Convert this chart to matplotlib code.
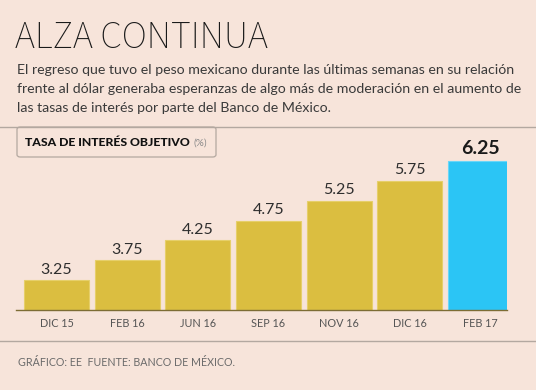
import matplotlib
matplotlib.use("Agg")
import matplotlib.pyplot as plt
from matplotlib.patches import FancyBboxPatch
from matplotlib.lines import Line2D

categories = ["DIC 15", "FEB 16", "JUN 16", "SEP 16", "NOV 16", "DIC 16", "FEB 17"]
values = [3.25, 3.75, 4.25, 4.75, 5.25, 5.75, 6.25]
value_labels = ["3.25", "3.75", "4.25", "4.75", "5.25", "5.75", "6.25"]

BG = "#F7E4DA"
GOLD = "#DBBE40"
BLUE = "#2BC5F5"
W, H = 536, 390

plt.rcParams['font.family'] = ['Lato', 'DejaVu Sans']
fig = plt.figure(figsize=(W / 100, H / 100), dpi=100, facecolor=BG)

def fx(px):
    return px / W

def fy(py):
    return 1 - py / H

# Title and subtitle
fig.text(fx(15), fy(47.5), "ALZA CONTINUA", fontsize=27.5,
         family=['Source Sans 3', 'Lato', 'DejaVu Sans'],
         color="#1a1a1a", ha='left', va='baseline')
sub = ["El regreso que tuvo el peso mexicano durante las últimas semanas en su relación",
       "frente al dólar generaba esperanzas de algo más de moderación en el aumento de",
       "las tasas de interés por parte del Banco de México."]
for i, line in enumerate(sub):
    fig.text(fx(17), fy(74.5 + i * 18.5), line, fontsize=10.2, color="#3a3a3a",
             ha='left', va='baseline')

# Separator lines
fig.add_artist(Line2D([0, 1], [fy(127), fy(127)], color="#B3A8A0", lw=1.0))
fig.add_artist(Line2D([0, 1], [fy(340.5), fy(340.5)], color="#B3A8A0", lw=1.0))

# Legend box
box = FancyBboxPatch((fx(17), fy(157)), fx(216) - fx(17), fy(127) - fy(157),
                     boxstyle="round,pad=0,rounding_size=0.006",
                     transform=fig.transFigure, facecolor=BG,
                     edgecolor="#B3A8A0", lw=0.9)
fig.add_artist(box)
fig.text(fx(25), fy(146), "TASA DE INTERÉS OBJETIVO", fontsize=8.85,
         fontweight='black', color="#111111", ha='left', va='baseline')
fig.text(fx(194), fy(146), "(%)", fontsize=7.2, color="#8a8a8a",
         ha='left', va='baseline')

# Chart axes
ax = fig.add_axes([fx(16), fy(310), fx(507) - fx(16), fy(130) - fy(310)])
ax.set_facecolor("none")
xs = list(range(len(categories)))
colors = [GOLD] * (len(values) - 1) + [BLUE]
edges = ["#E6CF6A"] * (len(values) - 1) + ["#6AD6F7"]
ax.bar(xs, [v - 2.5 for v in values], bottom=2.5, width=0.92,
       color=colors, edgecolor=edges, linewidth=0.8)
ax.set_xlim(-0.573, 6.375)
ax.set_ylim(2.5, 7.03)

for i, (x, v, lab) in enumerate(zip(xs, values, value_labels)):
    last = i == len(values) - 1
    ax.text(x, v + 0.09, lab, ha='center', va='bottom',
            fontsize=14 if last else 11.5,
            fontweight='bold' if last else 'normal',
            color="#1a1a1a" if last else "#2e2e2e")

for s in ['top', 'right', 'left']:
    ax.spines[s].set_visible(False)
ax.spines['bottom'].set_color("#7d6d35")
ax.spines['bottom'].set_linewidth(1.0)
ax.set_yticks([])
ax.set_xticks(xs)
ax.set_xticklabels(categories, fontsize=7.8, color="#555555")
ax.tick_params(axis='x', length=0, pad=6)

# Footer
fig.text(fx(18), fy(366), "GRÁFICO: EE  FUENTE: BANCO DE MÉXICO.", fontsize=7.7,
         color="#6a6a6a", ha='left', va='baseline')

fig.savefig("out.png", dpi=100, facecolor=BG)
